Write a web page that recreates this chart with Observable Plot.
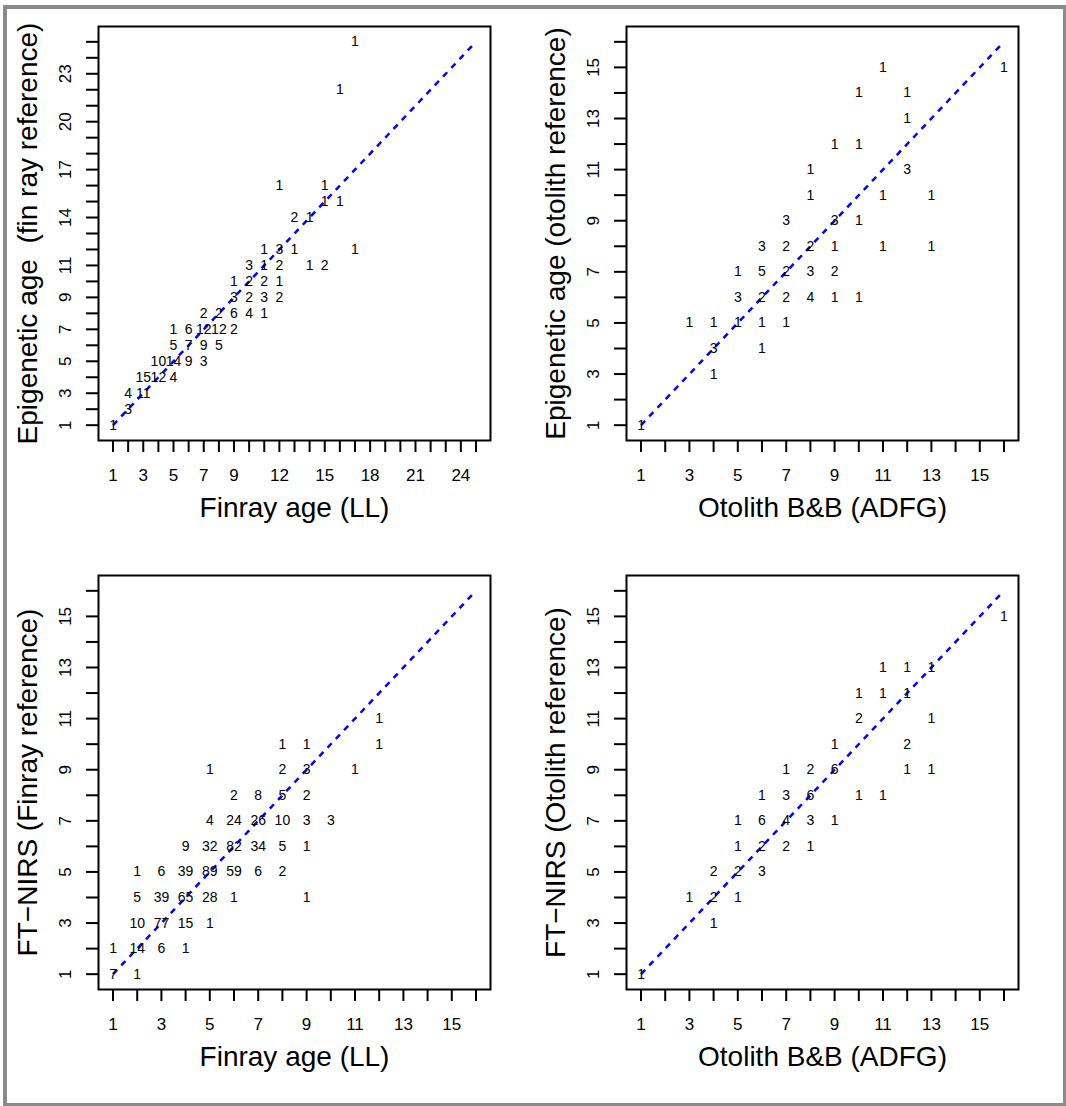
<!DOCTYPE html>
<html><head><meta charset="utf-8">
<script src="https://cdn.jsdelivr.net/npm/d3@7"></script>
<script src="https://cdn.jsdelivr.net/npm/@observablehq/plot@0.6"></script>
<style>
html,body{margin:0;padding:0;background:#fff;overflow:hidden;}
#wrap{position:relative;width:1066px;height:1106px;overflow:hidden;}
#border{position:absolute;left:3px;top:5px;width:1064px;height:1102px;border:4px solid #8a8a8a;box-sizing:border-box;}
.panel{position:absolute;}
</style></head><body><div id="wrap"><div id="border"></div></div>
<script>
// [x, y, count]
const finrayEpigenetic = [
  [1,1,1],[2,2,3],[2,3,4],[3,3,11],[3,4,15],[4,4,12],[5,4,4],
  [4,5,10],[5,5,14],[6,5,9],[7,5,3],[5,6,5],[6,6,7],[7,6,9],[8,6,5],
  [5,7,1],[6,7,6],[7,7,12],[8,7,12],[9,7,2],
  [7,8,2],[8,8,2],[9,8,6],[10,8,4],[11,8,1],
  [9,9,3],[10,9,2],[11,9,3],[12,9,2],
  [9,10,1],[10,10,2],[11,10,2],[12,10,1],
  [10,11,3],[11,11,1],[12,11,2],[14,11,1],[15,11,2],
  [11,12,1],[12,12,3],[13,12,1],[17,12,1],
  [13,14,2],[14,14,1],[15,15,1],[16,15,1],[12,16,1],[15,16,1],
  [16,22,1],[17,25,1]
];
const otolithEpigenetic = [
  [1,1,1],[4,3,1],[4,4,3],[6,4,1],
  [3,5,1],[4,5,1],[5,5,1],[6,5,1],[7,5,1],
  [5,6,3],[6,6,2],[7,6,2],[8,6,4],[9,6,1],[10,6,1],
  [5,7,1],[6,7,5],[7,7,2],[8,7,3],[9,7,2],
  [6,8,3],[7,8,2],[8,8,2],[9,8,1],[11,8,1],[13,8,1],
  [7,9,3],[9,9,3],[10,9,1],
  [8,10,1],[11,10,1],[13,10,1],
  [8,11,1],[12,11,3],[9,12,1],[10,12,1],
  [12,13,1],[10,14,1],[12,14,1],[11,15,1],[16,15,1]
];
const finrayNirs = [
  [1,1,7],[2,1,1],
  [1,2,1],[2,2,14],[3,2,6],[4,2,1],
  [2,3,10],[3,3,77],[4,3,15],[5,3,1],
  [2,4,5],[3,4,39],[4,4,65],[5,4,28],[6,4,1],[9,4,1],
  [2,5,1],[3,5,6],[4,5,39],[5,5,89],[6,5,59],[7,5,6],[8,5,2],
  [4,6,9],[5,6,32],[6,6,82],[7,6,34],[8,6,5],[9,6,1],
  [5,7,4],[6,7,24],[7,7,26],[8,7,10],[9,7,3],[10,7,3],
  [6,8,2],[7,8,8],[8,8,5],[9,8,2],
  [5,9,1],[8,9,2],[9,9,3],[11,9,1],
  [8,10,1],[9,10,1],[12,10,1],[12,11,1]
];
const otolithNirs = [
  [1,1,1],[4,3,1],[3,4,1],[4,4,2],[5,4,1],
  [4,5,2],[5,5,2],[6,5,3],
  [5,6,1],[6,6,2],[7,6,2],[8,6,1],
  [5,7,1],[6,7,6],[7,7,4],[8,7,3],[9,7,1],
  [6,8,1],[7,8,3],[8,8,6],[10,8,1],[11,8,1],
  [7,9,1],[8,9,2],[9,9,6],[12,9,1],[13,9,1],
  [9,10,1],[12,10,2],[10,11,2],[13,11,1],
  [10,12,1],[11,12,1],[12,12,1],
  [11,13,1],[12,13,1],[13,13,1],[16,15,1]
];

const ticks25 = d3.range(1, 26);
const ticks16 = d3.range(1, 17);
const p1XLabels = [1,3,5,7,9,12,15,18,21,24];
const p1YLabels = [1,3,5,7,9,11,14,17,20,23];
const oddLabels = [1,3,5,7,9,11,13,15];
const line25 = [1, 25];
const line16 = [1, 16];

const FONT = "'Liberation Sans', Arial, Helvetica, sans-serif";

function panel(o) {
  return Plot.plot({
    width: 533, height: 553,
    marginLeft: o.ml, marginRight: o.mr, marginTop: 26, marginBottom: 113,
    style: {fontFamily: FONT, fontSize: "17px", background: "transparent", color: "black", overflow: "visible"},
    x: {domain: o.xDomain},
    y: {domain: o.yDomain},
    marks: [
      Plot.axisX({ticks: o.xTicks, tickSize: 12, tickPadding: 16, strokeWidth: 2,
        tickFormat: d => o.xLabels.includes(d) ? String(d) : "", label: null, fontSize: 17}),
      Plot.axisY({ticks: o.yTicks, tickSize: 12, strokeWidth: 2, tickFormat: () => "", label: null}),
      Plot.text(o.yLabels, {y: d => d, text: d => String(d), frameAnchor: "left", dx: -33, rotate: -90,
        textAnchor: "middle", lineAnchor: "middle", fontSize: 17}),
      Plot.line(o.line, {x: d => d, y: d => d, stroke: "#0000ff", strokeWidth: 2.5, strokeDasharray: "6,6", strokeLinecap: "butt"}),
      Plot.text(o.data, {x: d => d[0], y: d => d[1], text: d => String(d[2]), fontSize: 14, fill: "black"}),
      Plot.frame({stroke: "black", strokeWidth: 2}),
      Plot.text([o.xTitle], {frameAnchor: "bottom", dy: 68, textAnchor: "middle", lineAnchor: "middle", fontSize: 28, text: d => d}),
      Plot.text([o.yTitle], {frameAnchor: "left", dx: -70, rotate: -90, textAnchor: "middle", lineAnchor: "middle", fontSize: 28, text: d => d})
    ]
  });
}

const panels = [
  {left: 0, top: 0, ml: 98, mr: 43, xDomain: [0.04, 25.96], yDomain: [0.04, 25.96],
   xTicks: ticks25, yTicks: ticks25, xLabels: p1XLabels, yLabels: p1YLabels, line: line25,
   data: finrayEpigenetic, xTitle: "Finray age (LL)", yTitle: "Epigenetic age  (fin ray reference)"},
  {left: 533, top: 0, ml: 93, mr: 48, xDomain: [0.4, 16.6], yDomain: [0.4, 16.6],
   xTicks: ticks16, yTicks: ticks16, xLabels: oddLabels, yLabels: oddLabels, line: line16,
   data: otolithEpigenetic, xTitle: "Otolith B&B (ADFG)", yTitle: "Epigenetic age (otolith reference)"},
  {left: 0, top: 549, ml: 98, mr: 43, xDomain: [0.4, 16.6], yDomain: [0.4, 16.6],
   xTicks: ticks16, yTicks: ticks16, xLabels: oddLabels, yLabels: oddLabels, line: line16,
   data: finrayNirs, xTitle: "Finray age (LL)", yTitle: "FT\u2212NIRS (Finray reference)"},
  {left: 533, top: 549, ml: 93, mr: 48, xDomain: [0.4, 16.6], yDomain: [0.4, 16.6],
   xTicks: ticks16, yTicks: ticks16, xLabels: oddLabels, yLabels: oddLabels, line: line16,
   data: otolithNirs, xTitle: "Otolith B&B (ADFG)", yTitle: "FT\u2212NIRS (Otolith reference)"}
];

const wrap = document.getElementById("wrap");
for (const p of panels) {
  const div = document.createElement("div");
  div.className = "panel";
  div.style.left = p.left + "px";
  div.style.top = p.top + "px";
  div.appendChild(panel(p));
  wrap.appendChild(div);
}
</script></body></html>
